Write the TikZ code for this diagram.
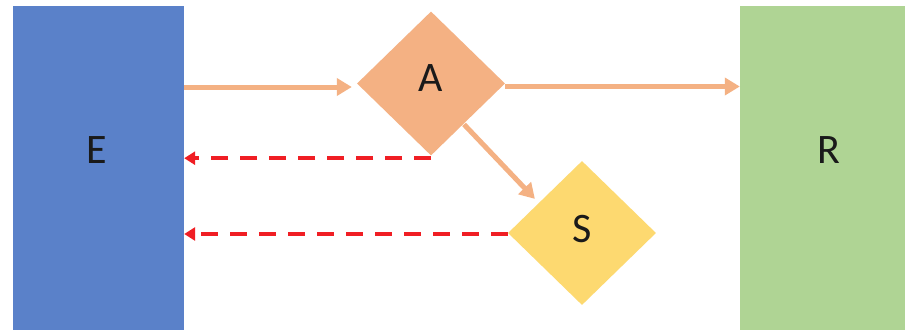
\documentclass[tikz,border=0pt]{standalone}
\usepackage{fontspec}
\setmainfont{Carlito}
\usetikzlibrary{arrows.meta,shapes.geometric}
\definecolor{eblue}{HTML}{5A81C9}
\definecolor{rgreen}{HTML}{AFD494}
\definecolor{aorange}{HTML}{F4B183}
\definecolor{syellow}{HTML}{FDD970}
\definecolor{dred}{HTML}{F01E24}
\definecolor{txt}{HTML}{1A1A1A}
\tikzset{
  block/.style={rectangle, draw=none, inner sep=0pt, text=txt, font=\fontsize{42}{42}\selectfont},
  dia/.style={diamond, draw=none, inner sep=0pt, minimum width=148pt, minimum height=144pt, text=txt, font=\fontsize{42}{42}\selectfont},
  oarrow/.style={draw=aorange, line width=5pt, -{Triangle[length=15pt,width=17pt]}},
  rarrow/.style={draw=dred, line width=4pt, dash pattern=on 17pt off 12pt, -{Triangle[length=11pt,width=13pt]}}
}
\begin{document}
\begin{tikzpicture}[x=1pt,y=-1pt]
\useasboundingbox (0,0) rectangle (905,330);
\fill[white] (0,0) rectangle (905,330);
\node[block, fill=eblue, minimum width=171pt, minimum height=324pt] (E) at (98.5,168) {\raisebox{36pt}{E}\hspace*{3pt}};
\node[block, fill=rgreen, minimum width=165pt, minimum height=324pt] (R) at (822.5,168) {\hspace*{12pt}\raisebox{36pt}{R}};
\node[dia, fill=aorange] (A) at (431,83.5) {\raisebox{10pt}{A}};
\node[dia, fill=syellow] (S) at (582,233) {\raisebox{8pt}{S}};
\draw[oarrow] ([yshift=-3.5pt]E.east |- A.west) -- ([xshift=-5pt,yshift=-3.5pt]A.west);
\draw[oarrow] ([yshift=-3pt]A.east) -- ([yshift=-3pt]A.east -| R.west);
\draw[oarrow, shorten <=-3pt] ([xshift=-2pt,yshift=-7pt]A.south east) -- ([xshift=-10pt,yshift=-2pt]S.north west);
\draw[rarrow] ([yshift=-2.5pt]A.south) -- ([yshift=-2.5pt]A.south -| E.east);
\draw[rarrow] ([yshift=-1pt]S.west) -- ([yshift=-1pt]S.west -| E.east);
\end{tikzpicture}
\end{document}
